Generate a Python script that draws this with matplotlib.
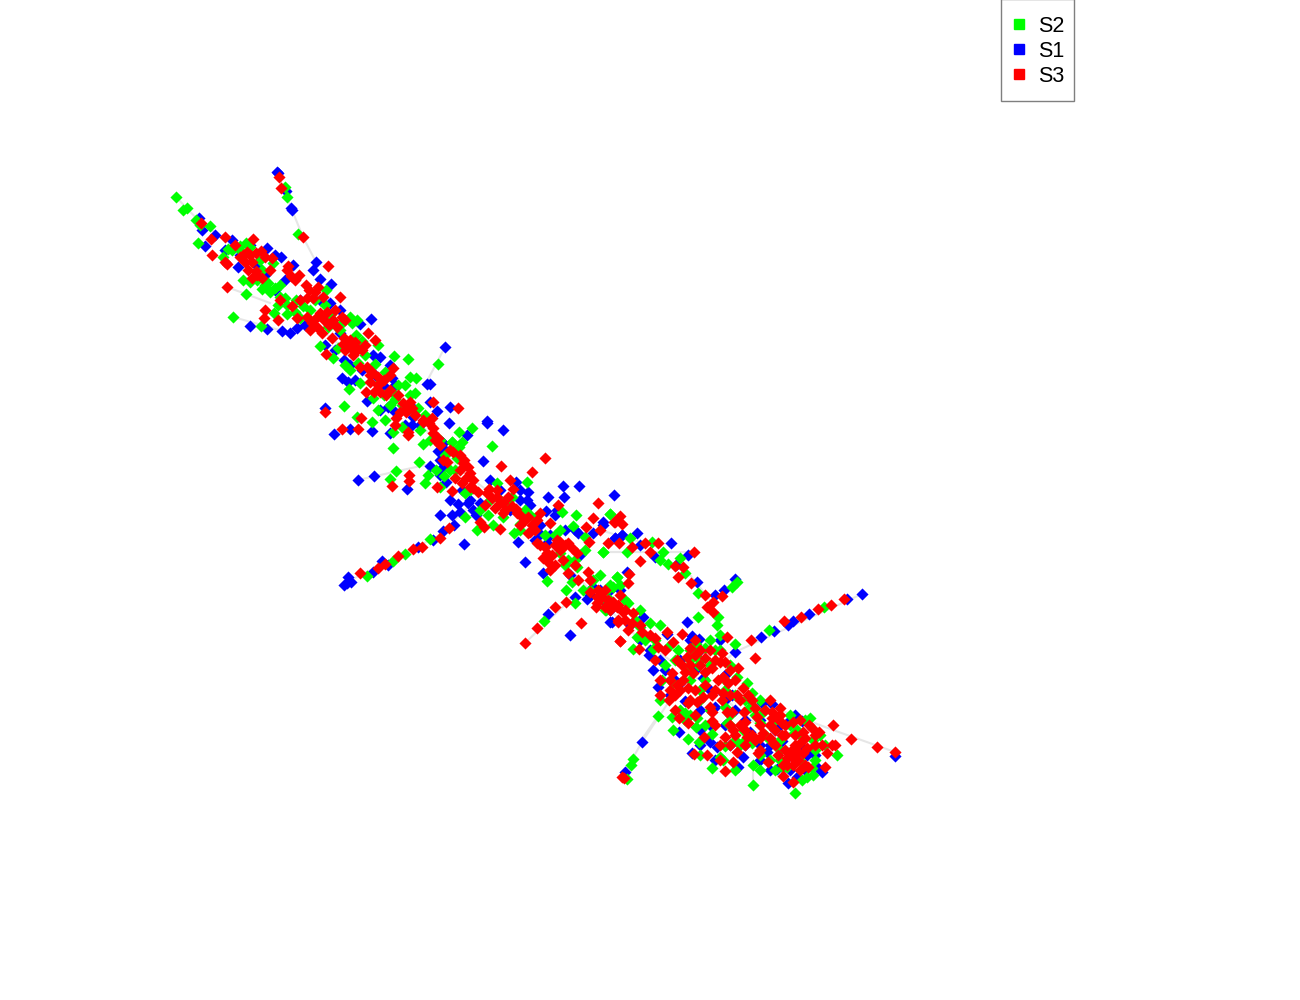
import matplotlib
matplotlib.use("Agg")
import matplotlib.pyplot as plt
from matplotlib.patches import Rectangle

plt.rcParams['font.family'] = ['Liberation Sans', 'DejaVu Sans']

# positions, no axes so the units are just image pixels
s1_x = [277,278,286,291,292,199,202,215,232,205,267,281,275,238,316,313,320,331,293,265,250,267,282,290,297,330,371,360,340,445,380,373,390,344,342,348,427,430,392,385,367,325,388,437,450,449,413,412,395,334,372,390,350,443,430,
        358,374,407,487,487,503,442,438,443,430,446,483,467,516,528,527,520,548,563,579,564,614,458,468,480,473,452,454,464,518,525,543,546,557,540,547,578,603,593,622,615,593,575,587,603,570,548,610,443,433,418,388,382,373,347,344,351,348,
        603,622,615,637,671,640,655,688,676,627,697,735,724,715,610,605,612,643,687,667,692,699,649,653,735,761,774,788,793,809,847,862,642,625,658,703,723,680,685,679,710,717,692,743,738,762,772,750,787,802,782,777,817,822,788,807,797,895,767,715,732,
        240,258,275,320,340,335,350,362,395,410,420,440,445,462,470,476,440,500,520,530,540,550,565,590,600,620,610,650,665,675,695,710,725,700,745,760,770,790,805,775,795,810,730,735,690,710,
        225,250,285,300,305,325,345,355,375,380,405,440,450,460,490,510,535,555,575,580,570,610,630,640,660,680,700,720,670,685,700,725,750,760,780,800,815,760,770,790,745,725,715,700]
s1_y = [172,173,191,208,210,218,230,235,240,246,248,257,255,267,262,270,279,284,265,275,326,329,331,333,328,303,319,324,333,347,357,355,365,360,378,382,384,384,378,387,401,408,407,411,407,423,417,425,412,434,431,433,429,443,402,
        480,476,489,421,423,430,442,451,467,466,482,461,435,482,492,500,500,497,486,486,497,495,504,503,503,510,515,525,544,542,562,573,511,510,534,543,533,522,533,535,538,587,597,599,600,635,614,622,531,540,547,565,561,572,583,585,582,577,
        525,535,538,533,543,545,557,555,565,572,582,579,590,595,588,600,622,617,622,634,636,639,655,670,652,637,631,625,621,614,599,594,742,772,687,678,693,683,701,732,742,747,753,757,767,703,704,732,723,721,741,769,767,772,783,755,777,756,752,707,695,
        255,267,290,300,310,350,365,370,385,405,425,460,450,490,500,515,515,490,490,505,525,535,530,595,590,590,610,650,670,680,670,690,675,710,720,760,745,770,770,730,715,750,745,710,640,725,
        250,245,280,300,325,345,345,380,375,410,425,475,500,512,480,510,540,515,530,555,575,590,625,640,660,660,650,640,695,715,730,700,700,720,725,745,755,745,770,755,745,725,760,745]

s2_x = [176,183,187,196,210,198,298,285,287,228,240,246,223,260,273,243,250,257,246,262,268,275,280,285,233,261,274,303,310,287,295,326,320,333,328,357,350,352,362,338,394,408,438,358,375,360,349,410,416,380,415,395,373,344,378,418,357,372,393,402,393,423,452,459,
        419,396,390,425,428,459,472,462,452,492,457,444,440,465,497,527,512,465,477,488,493,503,514,520,535,562,576,573,585,603,610,627,560,568,577,547,566,572,575,593,607,617,613,606,544,430,405,393,367,
        610,603,630,652,663,660,668,680,685,698,737,732,617,610,628,605,698,718,717,720,650,640,637,633,653,735,769,824,696,705,678,662,673,698,687,737,725,747,752,750,763,658,672,673,685,697,696,688,699,712,725,720,723,712,753,753,810,794,813,797,752,760,727,770,787,837,807,813,795,802,633,631,627,743,780,783,
        240,250,265,270,278,287,295,330,340,345,350,360,378,384,395,402,410,420,425,440,445,450,470,480,490,510,520,530,545,555,565,590,600,610,620,635,645,660,670,690,710,705,715,730,745,755,775,790,800,815,825,740,760,770,780,812,730,700,680,665,690,725,705,735,
        200,232,262,280,296,300,315,325,340,356,365,385,398,405,390,385,430,436,455,500,525,560,575,585,583,600,625,640,655,675,690,700,720,710,725,735,700,690,710,730,745,765,780,790,805,820,800,815,775,760,735,700,685,660,760]
s2_y = [197,210,208,220,226,243,234,187,197,249,246,243,257,260,263,280,282,280,294,289,283,288,297,298,317,326,313,306,310,314,279,290,346,358,327,320,317,323,341,348,356,359,364,363,364,383,389,377,378,382,393,399,398,406,410,408,417,422,432,427,448,444,442,447,
        462,471,479,483,475,432,428,442,442,446,458,476,487,493,483,482,497,517,530,515,525,517,533,524,518,512,515,526,537,552,514,552,553,560,567,581,590,582,603,580,590,577,587,610,621,539,554,561,576,
        514,552,538,542,552,560,564,558,573,593,582,587,577,585,603,610,617,617,625,635,623,627,637,649,649,644,630,607,644,648,650,680,683,665,668,677,707,683,693,707,712,716,717,730,713,718,727,739,742,734,746,757,760,768,765,785,718,733,740,730,743,723,723,740,767,755,777,775,793,780,759,765,779,730,750,768,
        250,247,285,292,305,305,312,315,325,365,370,345,345,395,395,405,395,430,415,440,455,470,490,510,500,505,530,515,535,535,565,590,575,600,585,620,640,625,645,650,640,680,650,665,700,715,720,725,735,750,745,745,755,760,760,768,725,700,710,665,680,690,725,740,
        225,250,270,285,300,318,300,305,330,335,355,372,385,385,405,420,440,470,470,500,510,530,560,550,590,600,600,610,640,660,660,660,650,665,680,695,690,715,710,715,740,735,740,715,720,735,760,760,770,770,770,755,720,700,700]

s3_x = [279,281,303,201,211,225,212,227,253,240,250,265,272,248,257,287,295,328,306,315,340,227,292,265,264,278,297,307,320,310,333,342,332,322,350,368,375,326,360,367,370,378,390,393,366,407,433,458,325,342,358,361,396,408,423,432,433,443,453,
        408,423,447,463,470,455,501,532,545,409,409,392,437,452,473,489,497,503,513,517,480,484,500,528,530,540,550,558,537,547,557,568,577,550,568,588,578,598,593,586,600,620,614,622,589,608,619,597,566,596,555,613,620,618,581,537,525,620,360,378,385,398,413,422,440,449,
        615,632,645,658,650,640,694,675,683,629,628,678,691,705,722,713,707,713,617,610,623,618,632,633,642,620,639,655,667,658,673,682,727,751,755,784,801,818,831,844,
        695,687,682,672,693,683,722,720,738,712,723,728,688,703,710,723,743,737,660,669,688,697,732,744,757,772,780,777,679,688,712,740,733,725,704,747,755,763,775,782,793,809,833,819,851,877,895,803,
        773,800,807,822,832,827,758,737,707,694,733,768,725,793,787,798,793,790,808,825,783,793,622,624,
        243,247,256,261,252,256,252,262,245,288,291,299,309,313,318,323,307,312,316,324,327,318,329,337,344,350,355,345,353,358,343,362,372,378,374,384,380,370,386,403,406,412,400,410,429,433,438,440,435,
        460,464,468,460,466,473,470,478,462,487,492,497,500,505,512,508,516,520,495,503,525,532,537,528,520,535,545,552,548,555,560,543,555,563,560,565,572,598,602,608,597,605,610,590,618,625,625,628,
        700,690,705,700,690,677,670,677,685,705,715,725,730,718,705,695,680,670,715,730,722,712,740,748,765,772,780,785,770,760,745,735,745,752,760,770,782,795,805,812,815,795,785,803,783,800,792,778,787,798,805,730,720,690,675,712,727,752,
        235,225,270,280,300,335,345,365,390,398,415,395,450,485,510,540,575,590,605,640,650,665,655,660,675,695,715,730,745,720,760,775,800,815,835,785,770,755,735,710,695]
s3_y = [177,188,237,223,239,237,255,264,239,257,255,257,258,270,275,270,280,266,285,292,297,287,306,310,318,320,318,317,313,330,320,317,338,333,347,333,340,354,367,367,382,377,390,368,392,408,402,408,412,429,429,418,418,432,422,418,433,460,452,
        435,420,462,463,473,478,466,472,458,475,481,486,487,491,488,489,497,503,489,513,522,527,529,517,532,513,523,505,543,553,540,543,553,570,573,572,580,503,518,527,530,516,522,524,542,543,543,597,602,607,607,602,595,620,623,628,643,641,573,568,564,556,549,547,538,528,
        522,547,543,543,552,561,552,566,567,574,583,577,583,595,596,602,607,612,607,602,612,622,623,613,632,641,649,638,632,647,642,634,637,640,658,621,617,609,605,599,
        655,657,665,673,673,680,653,662,668,668,677,683,688,697,707,693,688,695,695,700,703,702,712,712,717,712,708,718,718,723,721,725,730,737,737,737,740,733,730,723,722,725,725,732,739,747,752,732,
        743,743,748,745,745,753,753,752,755,754,762,762,771,758,758,760,765,753,767,767,776,782,777,778,
        255,252,253,251,262,271,278,278,262,266,276,275,290,298,287,297,298,323,318,320,312,328,325,327,338,340,342,350,355,349,344,350,372,385,392,380,392,375,395,403,412,408,412,402,423,428,438,445,440,
        455,460,467,470,478,480,487,492,483,493,498,490,503,510,506,497,509,515,508,513,520,525,520,533,525,530,547,555,562,545,550,558,565,560,542,545,548,590,597,600,603,607,610,592,605,610,620,630,
        650,648,658,665,665,660,680,685,672,672,660,662,670,680,685,690,690,690,690,695,700,712,700,695,710,718,715,725,725,725,722,735,730,735,738,738,735,735,738,728,745,745,750,753,765,770,750,755,765,752,765,745,745,700,695,695,712,700,
        245,262,270,300,300,310,320,345,375,395,415,425,450,505,480,545,565,580,590,625,635,650,660,680,710,715,725,725,745,760,750,745,720,735,745,735,700,708,680,650,640]

# faint links between stops, mostly hidden under the markers
edge_x = [[176,200,240,280,340,400,460,520,590,640,700,790],[277,292,303,316],[345,440,470],[525,570],[622,642,670],[895,833,780],[862,735,720],[650,690,710,720],[600,650],[603,640],[233,290],[227,270],[445,425],[358,425],[753,753],[658,640],[603,690]]
edge_y = [[197,222,250,297,345,400,470,515,590,640,680,750],[172,210,237,262],[583,535,505],[643,600],[777,742,700],[752,730,710],[594,652,665],[552,575,600,640],[530,545],[552,552],[317,333],[287,303],[347,385],[480,465],[765,785],[716,742],[552,552]]

fig = plt.figure(figsize=(13, 10), dpi=100)
ax = fig.add_axes([0, 0, 1, 1])

for ex, ey in zip(edge_x, edge_y):
    ax.plot(ex, ey, color='#e6e6e6', lw=1.5, zorder=1)

ax.scatter(s1_x, s1_y, marker='D', s=38, color='#0000ff', linewidths=0, zorder=2)
ax.scatter(s2_x, s2_y, marker='D', s=38, color='#00ff00', linewidths=0, zorder=3)
ax.scatter(s3_x, s3_y, marker='D', s=38, color='#ff0000', linewidths=0, zorder=4)

ax.set_xlim(0, 1300)
ax.set_ylim(1000, 0)
ax.axis('off')

# box is separate, legend's own padding is the same on all sides
ax.add_patch(Rectangle((1000.5, -1), 73, 101.5, facecolor='white', edgecolor='#7f7f7f', lw=1, zorder=5))

handles = [plt.Line2D([], [], marker='s', ms=7, ls='', color=c) for c in ['#00ff00', '#0000ff', '#ff0000']]
leg = ax.legend(handles, ['S2', 'S1', 'S3'], loc='upper left', bbox_to_anchor=(1000/1300, 1 - 5/1000),
                fontsize=15.5, frameon=False, borderaxespad=0, borderpad=0.5,
                labelspacing=0.19, handletextpad=0.5, handlelength=0.75)
leg.set_zorder(6)

fig.savefig('out.png', dpi=100)
